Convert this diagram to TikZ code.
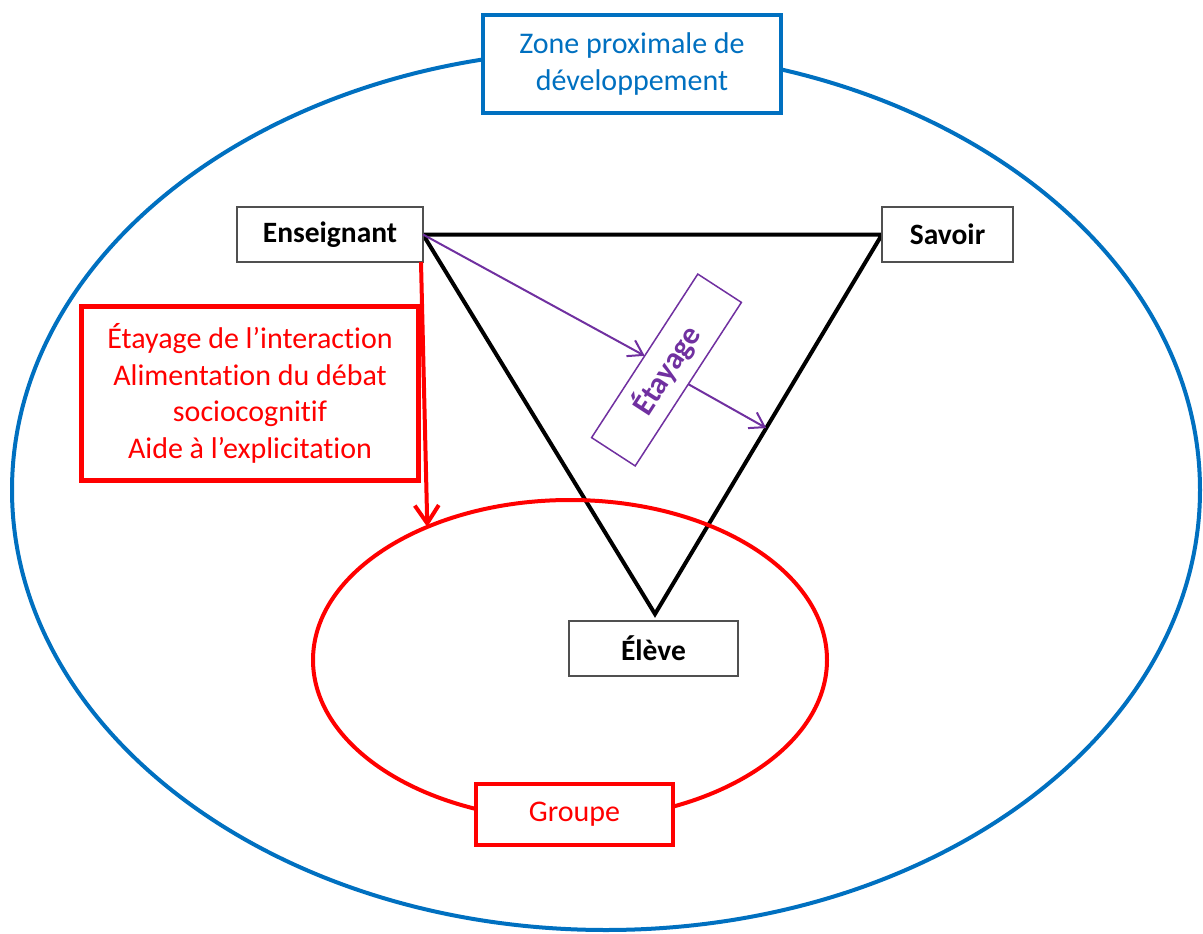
\documentclass[tikz,border=0pt]{standalone}
\usepackage{fontspec}
\setmainfont{Carlito}[Ligatures=NoCommon]
\usetikzlibrary{shapes.geometric,arrows.meta,calc}
\pgfdeclarelayer{background}
\pgfsetlayers{background,main}
\definecolor{zblue}{RGB}{0,112,192}
\definecolor{zred}{RGB}{255,0,0}
\definecolor{zpurple}{RGB}{112,48,160}
\definecolor{zgray}{RGB}{80,80,80}
\begin{document}
\begin{tikzpicture}[x=1pt,y=-1pt,
  every node/.style={font=\fontsize{30}{36.5}\selectfont, inner sep=0pt, outer sep=0pt},
  pole/.style={draw=zgray, line width=2pt, fill=white, font=\fontsize{29.5}{36}\selectfont\bfseries, text=black, minimum height=55pt},
  redbox/.style={draw=zred, fill=white, text=zred, align=center},
  purplearrow/.style={draw=zpurple, line width=2pt, -{Straight Barb[length=14pt,width=18pt]}},
  redarrow/.style={draw=zred, line width=4pt, -{Straight Barb[length=18pt,width=24pt]}}
]
\useasboundingbox (0,0) rectangle (1203,934);
% zone ellipse
\node[draw=zblue, line width=4pt, ellipse, minimum width=1188pt, minimum height=880pt] (zpd) at (606,490) {};
\node[draw=zblue, line width=4pt, fill=white, minimum width=298pt, minimum height=98pt, align=center, text=zblue] (zone) at (632,64) {Zone proximale de\\développement};
% poles
\node[pole, minimum width=186pt] (ens) at (330,234.5) {Enseignant};
\node[pole, minimum width=131pt] (sav) at (947.5,234.5) {Savoir};
\node[pole, minimum width=169pt] (ele) at (653.5,648.5) {Élève};
\coordinate (v) at (655,614);
\begin{pgfonlayer}{background}
\draw[black, line width=4pt] (ens.east) -- (sav.west) -- (v) -- cycle;
\end{pgfonlayer}
% group ellipse
\node[draw=zred, line width=4pt, ellipse, minimum width=514pt, minimum height=320pt] (grp) at (570,660) {};
\node[redbox, line width=4.5pt, minimum width=197pt, minimum height=61pt] (grplab) at (574.5,814.5) {Groupe};
% actions box
\node[redbox, line width=5pt, minimum width=337pt, minimum height=174pt] (act) at (250,393.5) {Étayage de l’interaction\\Alimentation du débat\\sociocognitif\\Aide à l’explicitation};
% etayage
\node[draw=zpurple, line width=1.5pt, fill=white, rotate=57, minimum width=195pt, minimum height=52pt, text=zpurple, font=\fontsize{31}{36}\selectfont\bfseries] (eta) at (666.5,370) {Étayage};
\draw[purplearrow] (ens.east) -- (eta.north);
\coordinate (e2) at ($(sav.west)!0.51!(v)$);
\draw[purplearrow] (eta.south) -- (e2);
\draw[redarrow] ([xshift=-2pt]ens.south east) -- (grp.137);
\end{tikzpicture}
\end{document}
